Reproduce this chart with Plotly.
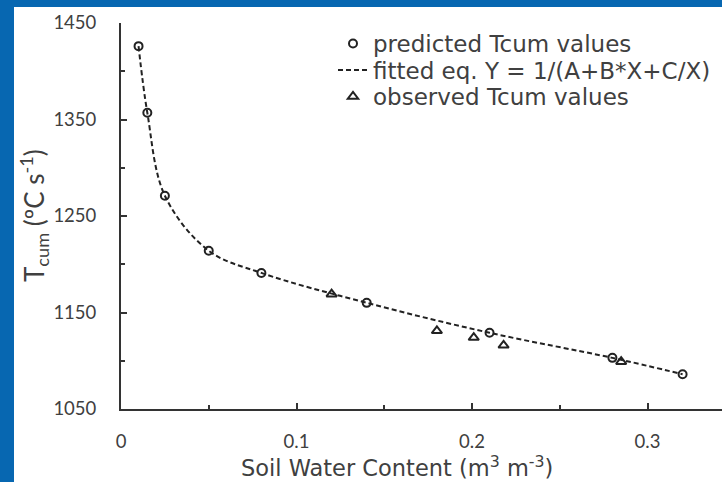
import plotly.graph_objects as go

# Soil water content (m3 m-3) and cumulative temperature values
pred_x = [0.01, 0.015, 0.025, 0.05, 0.08, 0.14, 0.21, 0.28, 0.32]
pred_y = [1426, 1357, 1271, 1214, 1191, 1160, 1129, 1103, 1086]

obs_x = [0.12, 0.18, 0.201, 0.218, 0.285]
obs_y = [1169, 1131, 1124, 1116, 1099]

y_ticks = [1050, 1150, 1250, 1350, 1450]
x_ticks = [0, 0.1, 0.2, 0.3]
x_tick_text = ["0", "0.1", "0.2", "0.3"]

W, H = 722, 482
ML, MR, MT, MB = 121, 0, 23, 73
PW, PH = W - ML - MR, H - MT - MB
BLUE = "#0767b1"
INK = "#222222"
AXIS = "#333333"
TXT = "#404040"
WIDE = "DejaVu Sans"
NARROW = "Lato"


def px_x(p):
    return (p - ML) / PW


def px_y(p):
    return (H - MB - p) / PH


fig = go.Figure()

fig.add_trace(go.Scatter(
    x=pred_x, y=pred_y, mode="lines", line_shape="spline",
    line=dict(color=INK, width=2, dash="5px,3px"),
    name="fitted eq. Y = 1/(A+B*X+C/X)", legend="legend2",
))
fig.add_trace(go.Scatter(
    x=pred_x, y=pred_y, mode="markers",
    marker=dict(symbol="circle-open", size=8, color=INK, line=dict(width=2)),
    name="predicted Tcum values", legend="legend",
))
fig.add_trace(go.Scatter(
    x=obs_x, y=obs_y, mode="markers",
    marker=dict(symbol="triangle-up-open", size=9, color=INK, line=dict(width=2)),
    name="observed Tcum values", legend="legend3",
))

# blue frame strips on the left and top edges
fig.add_shape(type="rect", xref="paper", yref="paper", layer="below",
              x0=px_x(0), x1=px_x(14), y0=px_y(H), y1=px_y(0),
              fillcolor=BLUE, line_width=0)
fig.add_shape(type="rect", xref="paper", yref="paper", layer="below",
              x0=px_x(0), x1=px_x(W), y0=px_y(7), y1=px_y(0),
              fillcolor=BLUE, line_width=0)

# axis titles
fig.add_annotation(text="Soil Water Content (m<sup>3</sup> m<sup>-3</sup>)",
                   xref="paper", yref="paper", x=px_x(397), y=px_y(483),
                   xanchor="center", yanchor="bottom", showarrow=False,
                   font=dict(family=WIDE, size=22.5, color=TXT))
fig.add_annotation(text="T<sub>cum</sub> (ºC s<sup>-1</sup>)",
                   xref="paper", yref="paper", x=px_x(34), y=px_y(216),
                   xanchor="center", yanchor="middle", showarrow=False,
                   textangle=-90, font=dict(family=NARROW, size=26, color=TXT))


def legend_box(center_y):
    return dict(x=px_x(333), y=px_y(center_y), xanchor="left", yanchor="middle",
                bgcolor="rgba(0,0,0,0)", font=dict(size=23, family=WIDE, color=TXT),
                itemsizing="trace")


fig.update_layout(
    width=W, height=H,
    margin=dict(l=ML, r=MR, t=MT, b=MB),
    paper_bgcolor="white", plot_bgcolor="white",
    font=dict(family=NARROW, color=TXT, size=18.5),
    showlegend=True,
    legend=legend_box(43.5),
    legend2=legend_box(70),
    legend3=legend_box(96.5),
    xaxis=dict(
        range=[0, (W - ML) / 1755], showgrid=False, zeroline=False,
        showline=True, linecolor=AXIS, linewidth=2,
        ticks="inside", ticklen=6, tickwidth=2, tickcolor=AXIS,
        tickvals=x_ticks, ticktext=x_tick_text,
        minor=dict(ticks="inside", ticklen=4, tickwidth=2, tickcolor=AXIS,
                   dtick=0.05, tick0=0, showgrid=False),
        tickfont=dict(size=18.5, color=TXT, family=NARROW), ticklabelstandoff=15,
    ),
    yaxis=dict(
        range=[1050, 1450], showgrid=False, zeroline=False,
        showline=True, linecolor=AXIS, linewidth=2,
        ticks="inside", ticklen=6, tickwidth=2, tickcolor=AXIS,
        tickvals=y_ticks,
        minor=dict(ticks="inside", ticklen=4, tickwidth=2, tickcolor=AXIS,
                   dtick=50, tick0=1050, showgrid=False),
        tickfont=dict(size=18.5, color=TXT, family=NARROW), ticklabelstandoff=19,
    ),
)

fig.write_html("out.html")
